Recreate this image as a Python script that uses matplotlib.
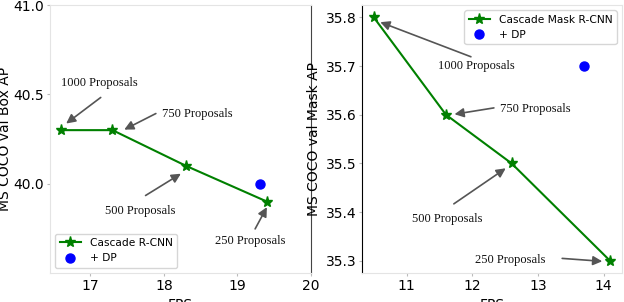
from matplotlib import pyplot as plt

# left: Cascade R-CNN box AP vs FPS
box_fps = [16.6, 17.3, 18.3, 19.4]
box_ap = [40.3, 40.3, 40.1, 39.9]
box_dp_fps = [19.3]
box_dp_ap = [40.0]

# right: Cascade Mask R-CNN mask AP vs FPS
mask_fps = [10.5, 11.6, 12.6, 14.1]
mask_ap = [35.8, 35.6, 35.5, 35.3]
mask_dp_fps = [13.7]
mask_dp_ap = [35.7]

proposal_labels = ['1000 Proposals', '750 Proposals', '500 Proposals', '250 Proposals']

# (text x, text y, arrow tail, arrow head) per label
box_notes = [
    (17.12, 40.565, (17.14, 40.483), (16.67, 40.337)),
    (18.46, 40.39, (17.89, 40.393), (17.46, 40.303)),
    (17.68, 39.85, (17.75, 39.934), (18.23, 40.056)),
    (19.18, 39.678, (19.24, 39.747), (19.40, 39.869)),
]
mask_notes = [
    (12.07, 35.70, (11.98, 35.719), (10.60, 35.79)),
    (12.96, 35.612, (12.33, 35.614), (11.73, 35.601)),
    (11.62, 35.386, (11.72, 35.417), (12.51, 35.49)),
    (12.58, 35.302, (13.37, 35.305), (13.98, 35.299)),
]

fig = plt.figure(figsize=(6.24, 3.02), dpi=100)
ax1 = fig.add_axes([0.0801, 0.096, 0.4183, 0.887])
ax2 = fig.add_axes([0.580, 0.096, 0.4167, 0.887])

light = '#e4e4e4'


def draw_notes(ax, notes):
    for label, (tx, ty, tail, head) in zip(proposal_labels, notes):
        ax.text(tx, ty, label, family='Liberation Serif', fontsize=9,
                ha='center', va='center', color='#111111')
        ax.annotate('', xy=head, xytext=tail,
                    arrowprops=dict(arrowstyle='-|>,head_length=0.5,head_width=0.25',
                                    color='#555555', lw=1.2, shrinkA=0, shrinkB=0,
                                    mutation_scale=11))


ax1.plot(box_fps, box_ap, color='green', marker='*', markersize=8, lw=1.5, label='Cascade R-CNN')
ax1.plot(box_dp_fps, box_dp_ap, 'o', color='blue', markersize=6.5, label='+ DP')
draw_notes(ax1, box_notes)
ax1.set_xlim(16.45, 20.0)
ax1.set_ylim(39.5, 41.0)
ax1.set_xticks([17, 18, 19, 20])
ax1.set_yticks([40.0, 40.5, 41.0])
ax1.set_xlabel('FPS', fontsize=10)
ax1.set_ylabel('MS COCO val Box AP', fontsize=10, labelpad=1)
ax1.legend(loc='lower left', fontsize=7.7)
for s in ['left', 'bottom', 'top']:
    ax1.spines[s].set_color(light)
ax1.spines['right'].set_color('#444444')

ax2.plot(mask_fps, mask_ap, color='green', marker='*', markersize=8, lw=1.5, label='Cascade Mask R-CNN')
ax2.plot(mask_dp_fps, mask_dp_ap, 'o', color='blue', markersize=6.5, label='+ DP')
draw_notes(ax2, mask_notes)
ax2.set_xticks([11, 12, 13, 14])
ax2.set_yticks([35.3, 35.4, 35.5, 35.6, 35.7, 35.8])
ax2.set_xlabel('FPS', fontsize=10)
ax2.set_ylabel('MS COCO val Mask AP', fontsize=10, labelpad=3)
ax2.legend(loc='upper right', fontsize=7.7)
for s in ['right', 'bottom', 'top']:
    ax2.spines[s].set_color(light)
ax2.spines['left'].set_color('black')

for ax in (ax1, ax2):
    ax.tick_params(labelsize=10, length=2, pad=2, color='#bbbbbb')

fig.savefig('out.png', dpi=100)
